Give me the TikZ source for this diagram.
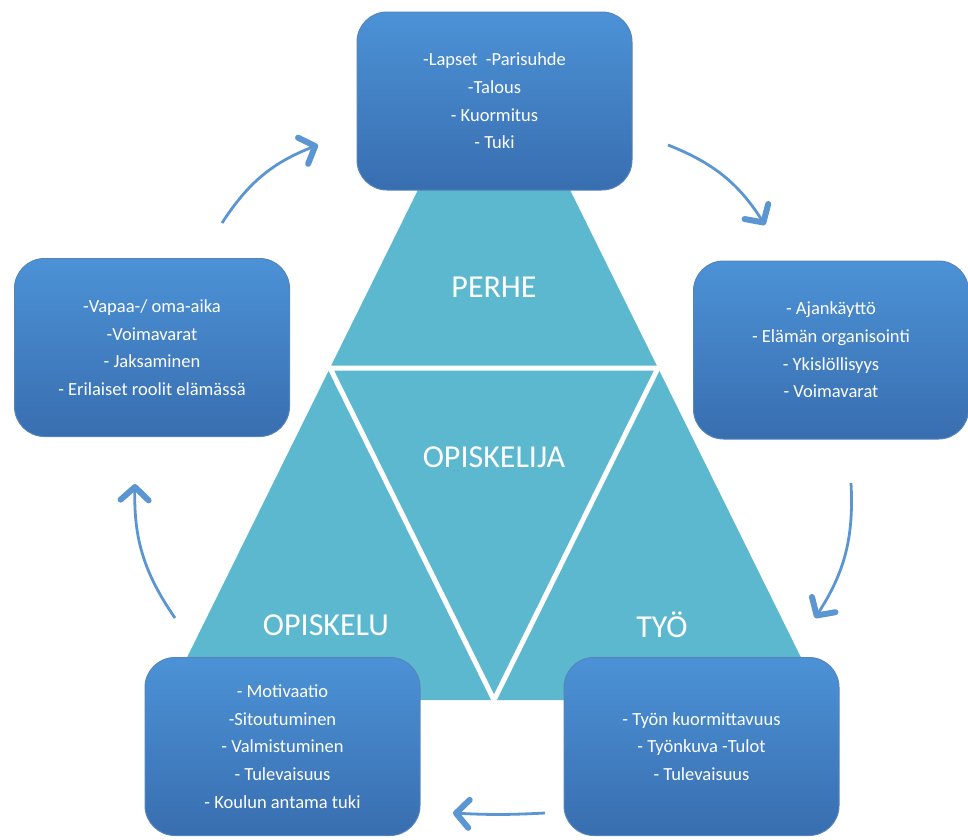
\documentclass[tikz,border=0pt]{standalone}
\usepackage{fontspec}
\setmainfont{Carlito}
\usetikzlibrary{arrows.meta}
\definecolor{tealarea}{RGB}{91,184,207}
\definecolor{boxtop}{RGB}{76,146,214}
\definecolor{boxbot}{RGB}{56,110,176}
\definecolor{arrowblue}{RGB}{91,150,210}
\tikzset{
  boxnode/.style={rounded corners=30pt, minimum width=275pt, minimum height=178pt,
    top color=boxtop, bottom color=boxbot, draw=boxbot!85!white, line width=1pt,
    text=white, align=center, font=\fontsize{18.5}{27.7}\selectfont},
  partlabel/.style={text=white, font=\fontsize{32}{34}\selectfont},
  cyclearrow/.style={draw=arrowblue, line width=2.8pt,
    -{Straight Barb[length=13pt,width=28pt,line width=6pt,round]}}
}
\begin{document}
\begin{tikzpicture}[x=1pt,y=-1pt]
  \useasboundingbox (0,0) rectangle (968,839);
  \fill[tealarea] (494,36) -- (822,700) -- (166,700) -- cycle;
  \draw[white, line width=5pt, line join=miter] (330,368) -- (658,368) -- (494,700) -- cycle;
  \node[partlabel] (perhe) at (494,287) {PERHE};
  \node[partlabel] (opiskelija) at (494,457) {OPISKELIJA};
  \node[partlabel] (opiskelu) at (326,625) {OPISKELU};
  \node[partlabel] (tyo) at (662,625) {TYÖ};
  \node[boxnode] (perhebox) at (494.5,101) {-Lapset~~-Parisuhde\\-Talous\\- Kuormitus\\- Tuki};
  \node[boxnode] (ajanbox) at (831,350) {- Ajankäyttö\\- Elämän organisointi\\- Ykislöllisyys\\- Voimavarat};
  \node[boxnode] (vapaabox) at (152,347.5) {-Vapaa-/ oma-aika\\-Voimavarat\\- Jaksaminen\\- Erilaiset roolit elämässä};
  \node[boxnode] (opiskbox) at (282.5,746.5) {- Motivaatio\\-Sitoutuminen\\- Valmistuminen\\- Tulevaisuus\\- Koulun antama tuki};
  \node[boxnode] (tyobox) at (701.5,746.5) {- Työn kuormittavuus\\- Työnkuva -Tulot\\- Tulevaisuus};
  \coordinate (a1) at (222,223);
  \coordinate (a2) at (318,145);
  \coordinate (b1) at (668,145);
  \coordinate (b2) at (765,225);
  \coordinate (c1) at (851,483);
  \coordinate (c2) at (815,618);
  \coordinate (d1) at (545,813);
  \coordinate (d2) at (453,813);
  \coordinate (e1) at (175,618);
  \coordinate (e2) at (135,484);
  \draw[cyclearrow] (a1) to[bend left=18] (a2);
  \draw[cyclearrow] (b1) to[bend left=18] (b2);
  \draw[cyclearrow] (c1) to[bend left=18] (c2);
  \draw[cyclearrow] (d1) to[bend left=3] (d2);
  \draw[cyclearrow] (e1) to[bend left=18] (e2);
\end{tikzpicture}
\end{document}
